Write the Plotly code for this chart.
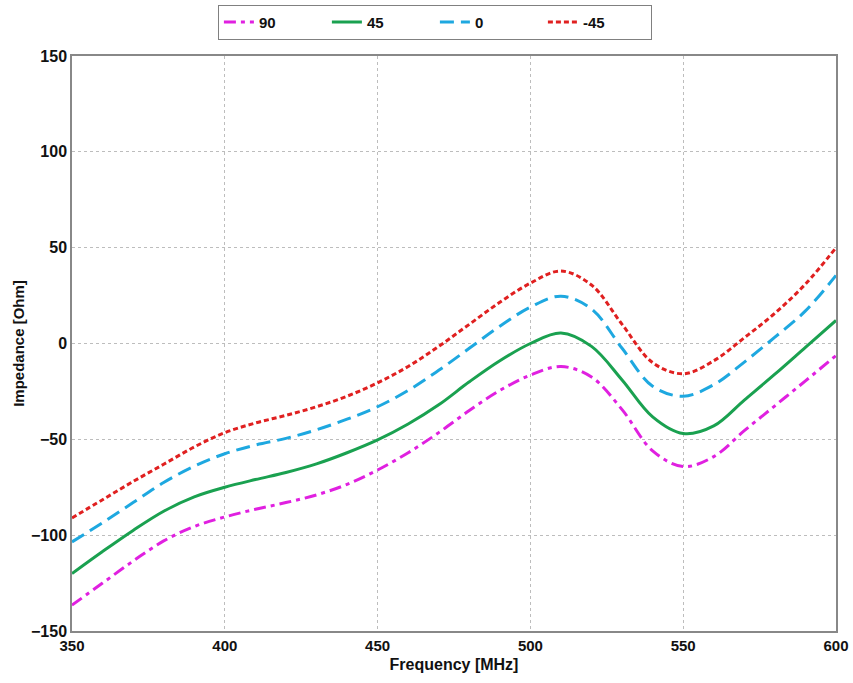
import plotly.graph_objects as go

freq = [350, 360, 370, 380, 390, 400, 410, 420, 430, 440, 450, 460, 470,
        480, 490, 500, 510, 520, 530, 540, 550, 560, 570, 580, 590, 600]

z_90 = [-136.5, -125, -113.5, -103, -95.5, -90.5, -86.5, -83, -79, -73.5, -66,
        -57, -46.5, -35, -24.5, -16.5, -12, -17.5, -34.5, -56, -64.2, -59, -45.5,
        -32.5, -19.5, -6.3]
z_45 = [-120, -108.5, -97.5, -87.5, -80, -75, -71, -67.3, -62.8, -57, -50.3,
        -42, -32, -20, -9, 0, 5.5, -1.5, -19, -38.3, -47, -43, -29.5, -16, -2, 12]
z_0 = [-103.5, -93.5, -83, -72.5, -64, -57.5, -53, -49.5, -45, -39.5, -33,
       -24.5, -14, -2.5, 9, 19, 24.7, 18, -2.5, -22.3, -27.5, -21.5, -9.7, 3.3, 17, 35.5]
z_m45 = [-91, -81.5, -72, -63, -54, -46.5, -41.5, -37.5, -33, -27.5, -20.5,
         -12, -1.5, 10, 21.5, 31.5, 37.8, 30.5, 10, -10, -15.8, -9, 3, 15.8, 31, 50]

series_names = ["90", "45", "0", "-45"]
series_values = [z_90, z_45, z_0, z_m45]
colors = ["#E020E0", "#1AA150", "#1EA8E0", "#E02020"]
dashes = ["12px,5px,4px,5px", "solid", "14px,7px", "5px,3px"]

x_ticks = [350, 400, 450, 500, 550, 600]
y_ticks = [-150, -100, -50, 0, 50, 100, 150]

fig = go.Figure()
for name, vals, c, d in zip(series_names, series_values, colors, dashes):
    fig.add_trace(go.Scatter(
        x=freq, y=vals, name=name, mode="lines",
        line=dict(color=c, width=3, dash=d, shape="spline", smoothing=1.0),
    ))

axis_common = dict(
    showline=True, linecolor="#888888", linewidth=1.5, mirror=True,
    showgrid=True, gridcolor="#BDBDBD", griddash="3px,3px", gridwidth=1,
    zeroline=False, ticks="",
)

fig.update_layout(
    width=853, height=683,
    margin=dict(l=72, r=17, t=56, b=52, autoexpand=False),
    paper_bgcolor="white", plot_bgcolor="white",
    font=dict(family="Liberation Sans, Arial", size=14, color="#111111"),
    xaxis=dict(range=[350, 600], tickvals=x_ticks,
               tickfont=dict(family="Liberation Sans, Arial",
                             size=15, color="#111111", weight="bold"),
               title=dict(text="<b>Frequency [MHz]</b>",
                          font=dict(family="Liberation Sans, Arial", size=16),
                          standoff=6),
               **axis_common),
    yaxis=dict(range=[-150, 150], tickvals=y_ticks,
               tickfont=dict(family="Liberation Sans, Arial", size=16,
                             color="#111111", weight="bold"),
               title=dict(text="<b>Impedance [Ohm]</b>", font=dict(size=15), standoff=3),
               **axis_common),
    legend=dict(orientation="h", x=0.475, xanchor="center",
                yref="container", y=0.993, yanchor="top",
                bordercolor="#808080", borderwidth=1, bgcolor="white",
                font=dict(size=15, weight="bold"), entrywidth=63),
    showlegend=True,
)

fig.write_html(
    "out.html",
    config={"displayModeBar": False},
    post_script="document.body.style.margin='0';document.body.style.overflow='hidden';",
)
